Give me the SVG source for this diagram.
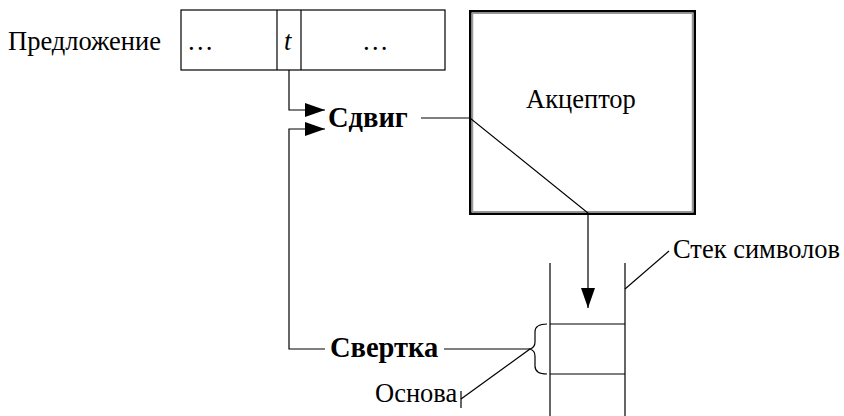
<svg xmlns="http://www.w3.org/2000/svg" width="844" height="416" viewBox="0 0 844 416" font-family="'Liberation Serif', 'DejaVu Serif', serif">
<style>
text{font-family:'Liberation Serif','DejaVu Serif',serif;font-size:26.5px;fill:#000}
.b{font-weight:bold;font-size:28.5px}
.ln{fill:none;stroke:#000;stroke-width:1.2}
</style>
<defs>
<marker id="ah" markerUnits="userSpaceOnUse" markerWidth="22" markerHeight="16" refX="20" refY="7" orient="auto">
<path d="M0,0 L20,7 L0,14 Z" fill="#000"/>
</marker>
</defs>
<rect width="844" height="416" fill="#fff"/>
<g id="sentence">
<text x="8" y="50" font-size="27.2">Предложение</text>
<rect x="181" y="10" width="264" height="60" class="ln" stroke-width="1.4"/>
<line x1="277" y1="10" x2="277" y2="70" class="ln" stroke-width="1.4"/>
<line x1="301" y1="10" x2="301" y2="70" class="ln" stroke-width="1.4"/>
<text x="187" y="50">…</text>
<text x="284" y="50" font-style="italic">t</text>
<text x="362" y="50">…</text>
</g>
<g id="acceptor">
<rect x="470.25" y="11.25" width="224.5" height="202.5" fill="#fff" stroke="#000" stroke-width="2.5"/>
<rect x="472.5" y="13.25" width="220" height="198.5" fill="none" stroke="#999" stroke-width="1.5"/>
<text x="526" y="108">Акцептор</text>
</g>
<g id="shift"><text x="328" y="127" class="b">Сдвиг</text></g>
<g id="reduce"><text x="330" y="357" class="b">Свертка</text></g>
<g id="stack">
<path d="M550,263 V416 M625,263 V416 M550,324 H625 M550,374 H625" class="ln"/>
<text x="673" y="258">Стек символов</text>
</g>
<g id="base">
<path d="M547,324 C539,324 535,326 535,332 V342 C535,346 533,348 530,349 C533,350 535,352 535,356 V366 C535,372 539,374 547,374" class="ln"/>
<text x="375" y="402">Основа</text>
<line x1="461" y1="391" x2="461" y2="408" class="ln"/>
</g>
<g id="connectors">
<path d="M289,70 V110 H325" class="ln" marker-end="url(#ah)"/>
<path d="M325,349 H289 V129 H325" class="ln" marker-end="url(#ah)"/>
<path d="M421,118 H470 L588,213 V308" class="ln" marker-end="url(#ah)"/>
<path d="M444,349 H530" class="ln"/>
<path d="M461,399 L530,349" class="ln"/>
<path d="M625,289 L669,251" class="ln"/>
</g>
</svg>
